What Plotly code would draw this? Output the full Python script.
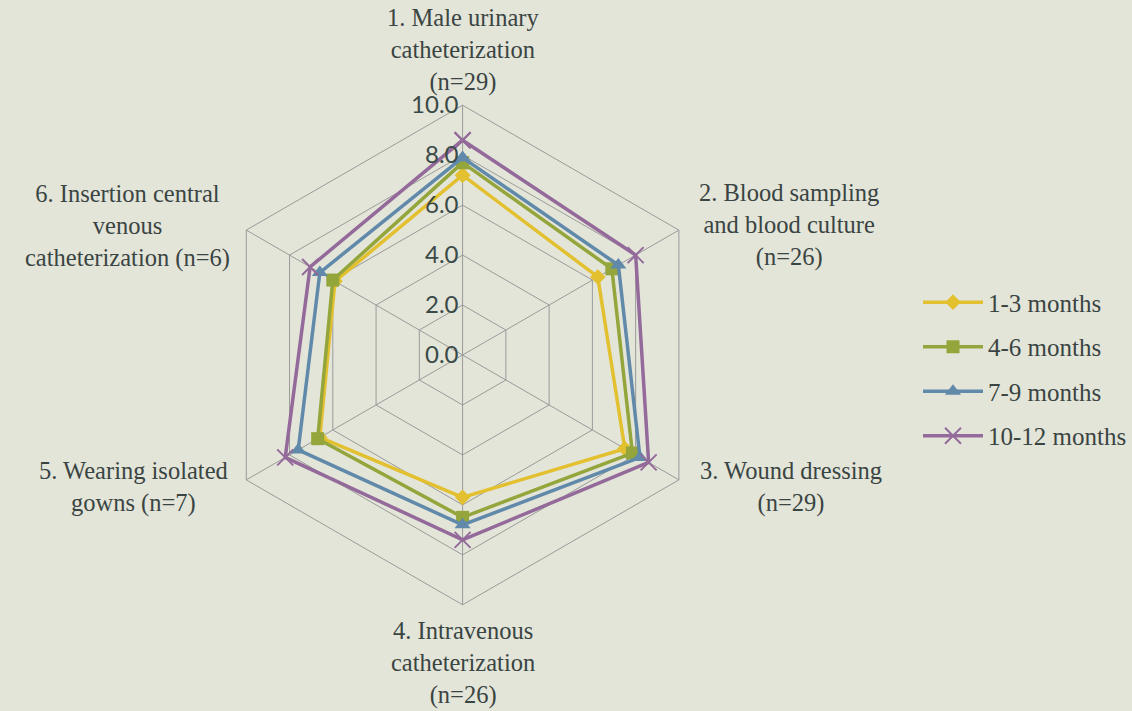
import plotly.graph_objects as go

categories = [
    "1. Male urinary<br>catheterization<br>(n=29)",
    "2. Blood sampling<br>and blood culture<br>(n=26)",
    "3. Wound dressing<br>(n=29)",
    "4. Intravenous<br>catheterization<br>(n=26)",
    "5. Wearing isolated<br>gowns (n=7)",
    "6. Insertion central<br>venous<br>catheterization (n=6)",
]
series_names = ["1-3 months", "4-6 months", "7-9 months", "10-12 months"]
m1_3 = [7.2, 6.25, 7.5, 5.7, 6.6, 5.9]
m4_6 = [7.7, 6.9, 7.85, 6.5, 6.7, 6.0]
m7_9 = [7.9, 7.2, 8.2, 6.8, 7.6, 6.6]
m10_12 = [8.6, 8.0, 8.6, 7.4, 8.2, 7.05]
radial_ticks = [0, 2, 4, 6, 8, 10]

colors = ["#E3C02F", "#94A63B", "#6089AA", "#936A9A"]
symbols = ["diamond", "square", "triangle-up", "x-thin-open"]
sizes = [12, 13, 14, 16]
values = [m1_3, m4_6, m7_9, m10_12]

theta_ids = [f"c{i}" for i in range(len(categories))]

fig = go.Figure()
for name, vals, col, sym, sz in zip(series_names, values, colors, symbols, sizes):
    marker = dict(symbol=sym, size=sz, color=col)
    if sym == "x-thin-open":
        marker["line"] = dict(color=col, width=2)
    fig.add_trace(go.Scatterpolar(
        r=vals + vals[:1],
        theta=theta_ids + theta_ids[:1],
        mode="lines+markers",
        name=name,
        legendgroup=name,
        line=dict(color=col, width=3.5),
        marker=marker,
    ))

bg = "#E3E5D9"
fig.update_layout(
    width=1132, height=711,
    paper_bgcolor=bg, plot_bgcolor=bg,
    margin=dict(l=0, r=0, t=0, b=0),
    polar=dict(
        bgcolor=bg,
        gridshape="linear",
        domain=dict(x=[213/1132, 713/1132], y=[1-605/711, 1-105/711]),
        angularaxis=dict(
            categoryorder="array", categoryarray=theta_ids,
            direction="clockwise", rotation=90,
            showticklabels=False, ticks="",
            gridcolor="#9A9A9A", linecolor="#9A9A9A", gridwidth=1,
        ),
        radialaxis=dict(
            range=[0, 10], tickvals=radial_ticks, tickformat=".1f",
            ticksuffix='<span style="color:rgba(0,0,0,0)">00</span>',
            angle=90, tickangle=90, side="counterclockwise",
            showline=False, ticks="",
            gridcolor="#9A9A9A", gridwidth=1,
            tickfont=dict(family="Lato, Open Sans", size=24, color="#3A4A47"),
        ),
    ),
    legend=dict(
        x=0.812, y=0.607, xanchor="left", yanchor="top",
        bgcolor="rgba(0,0,0,0)",
        font=dict(family="Liberation Serif", size=25, color="#3A4442"),
        tracegroupgap=9, itemwidth=60,
    ),
    showlegend=True,
)

label_pos = [
    (463, 50, "center"),
    (790, 225, "center"),
    (792, 487, "center"),
    (463, 663, "center"),
    (134, 487, "center"),
    (128, 226, "center"),
]
for text, (px, py, al) in zip(categories, label_pos):
    fig.add_annotation(
        x=px/1132, y=1-py/711, xref="paper", yref="paper",
        text=text, showarrow=False, align=al,
        xanchor="center", yanchor="middle",
        font=dict(family="Liberation Serif", size=24.5, color="#3A4442"),
    )

fig.write_html(
    "out.html",
    config={"displayModeBar": False},
    post_script="document.body.style.margin='0';document.body.style.padding='0';",
)
